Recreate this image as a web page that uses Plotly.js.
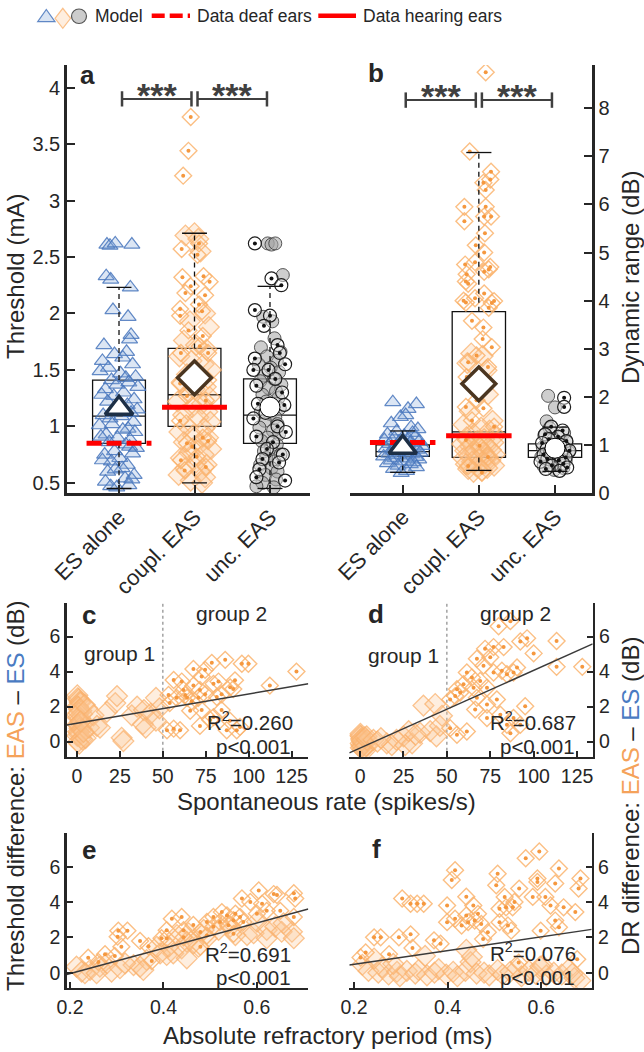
<!DOCTYPE html>
<html><head><meta charset="utf-8">
<script src="https://cdn.plot.ly/plotly-3.0.1.min.js"></script>
<style>html,body{margin:0;padding:0;background:#fff}#chart{width:644px;height:1052px}</style>
</head><body><div id="chart"></div>
<script>
// ---------------- DATA ----------------
const categories = ['ES alone', 'coupl. EAS', 'unc. EAS'];
const catPos = [1, 2, 3];

// Panel a: threshold (mA)
const aES_y  = [2.61,2.60,2.62,2.61,2.33,2.30,2.23,2.03,1.97,1.81,1.77,1.72,1.64,1.66,1.58,1.61,1.52,1.55,1.47,1.49,1.43,1.41,1.44,1.37,1.39,1.33,1.30,1.35,1.27,1.24,1.28,1.21,1.19,1.22,1.15,1.17,1.12,1.10,1.13,1.07,1.04,1.09,1.01,0.98,1.02,0.95,0.93,0.97,0.90,0.88,0.91,0.84,0.86,0.81,0.78,0.82,0.75,0.72,0.76,0.69,0.66,0.70,0.63,0.60,0.57,0.62,0.54,0.51,0.48,0.46,0.53,0.47];
const aES_dx = [-0.16,-0.12,-0.05,0.17,-0.17,-0.11,0.15,-0.08,0.12,0.16,0.14,-0.2,-0.06,0.1,-0.22,0.05,-0.14,0.18,0.02,-0.25,0.09,-0.1,0.22,-0.03,0.13,-0.18,0.06,0.25,-0.07,0.2,-0.23,0.0,0.11,-0.15,0.24,-0.04,0.16,-0.21,0.07,-0.12,0.19,0.03,-0.26,0.12,-0.09,0.21,-0.17,0.05,-0.02,0.15,-0.24,0.09,-0.13,0.23,-0.06,0.14,-0.19,0.01,0.18,-0.1,0.11,-0.22,0.04,-0.15,0.2,-0.05,0.08,-0.18,0.13,-0.03,0.17,-0.11];
const aCo1_y  = [2.71,2.69,2.66,2.55,2.0,1.93,1.88,1.76,1.72,1.68,1.62,1.58,1.55,1.5,1.46,1.44,1.39,1.35,1.33,1.3,1.26,1.22,1.2,1.17,1.13,1.1,1.08,1.04,1.01,0.98,0.95,0.92,0.9,0.86,0.84,0.8,0.77,0.75,0.72,0.68,0.66,0.63,0.6,0.57,0.55,0.52,0.5];
const aCo1_dx = [0.0,-0.12,0.05,0.08,0.14,-0.06,0.19,-0.14,0.02,0.16,-0.2,-0.04,0.12,0.22,-0.1,0.06,-0.17,0.15,0.0,-0.08,0.2,-0.22,0.1,-0.03,0.17,-0.15,0.05,0.21,-0.11,0.13,-0.2,-0.02,0.18,-0.14,0.07,0.22,-0.07,0.12,-0.18,0.02,0.16,-0.12,0.08,-0.21,0.14,-0.05,0.1];
const aCo2_y  = [3.74,3.44,3.22,2.62,2.57,2.52,2.33,2.32,2.28,2.24,2.18,2.16,2.08,2.04,2.02,1.98,1.85,1.8,1.71,1.65,1.65,1.48,1.41,1.38,1.27,1.23,1.05,0.9,0.87,0.85,0.82,0.73,0.7,0.64,0.61];
const aCo2_dx = [-0.05,-0.08,-0.15,0.06,-0.17,0.04,0.12,-0.16,0.2,-0.05,-0.12,0.14,0.06,-0.19,0.1,-0.19,-0.08,0.11,0.07,0.18,-0.18,0.03,0.18,-0.19,-0.1,0.15,-0.19,0.11,0.18,-0.1,-0.03,0.03,-0.18,0.15,-0.13];
const aUn1_y  = [2.62,2.61,2.62,2.34,1.97,1.93,1.78,1.7,1.66,1.62,1.58,1.55,1.52,1.48,1.45,1.42,1.4,1.37,1.34,1.31,1.28,1.25,1.22,1.19,1.16,1.13,1.11,1.08,1.05,1.02,0.99,0.96,0.93,0.9,0.87,0.84,0.81,0.78,0.75,0.72,0.69,0.66,0.63,0.6,0.57,0.53,0.5,0.47,0.46];
const aUn1_dx = [-0.03,0.02,0.07,0.17,-0.09,0.03,0.06,-0.12,0.14,-0.04,0.09,-0.15,0.01,0.12,-0.08,0.05,-0.13,0.15,-0.02,0.08,-0.1,0.11,-0.05,0.03,0.13,-0.12,0.0,0.07,-0.07,0.1,-0.14,0.04,0.12,-0.03,-0.11,0.09,0.01,-0.08,0.14,-0.05,0.06,-0.13,0.02,0.1,-0.06,0.08,-0.1,-0.18,0.05];
const aUn2_y  = [2.62,2.31,2.25,2.03,1.98,1.89,1.72,1.65,1.6,1.55,1.5,1.5,1.42,1.36,1.3,1.2,1.19,1.12,1.07,1.0,0.95,0.91,0.86,0.8,0.75,0.71,0.68,0.62,0.55,0.52];
const aUn2_dx = [-0.2,0.02,0.15,-0.2,0.0,-0.08,0.1,0.13,-0.2,0.2,-0.02,-0.22,0.07,-0.18,0.16,-0.16,0.19,-0.06,-0.22,0.1,0.21,-0.18,0.04,-0.04,0.17,-0.1,0.12,-0.14,-0.18,0.2];
const aQ1 = [0.85, 1.00, 0.85];
const aMedian = [1.09, 1.28, 1.10];
const aQ3 = [1.41, 1.69, 1.42];
const aLow = [0.45, 0.50, 0.45];
const aHigh = [2.23, 2.71, 2.24];
const aMean = [1.16, 1.43, 1.17];
const aDeaf = 0.85;     // data deaf ears (ES alone)
const aHearing = 1.17;  // data hearing ears (coupl. EAS)
const aSigLevel = 3.9;

// Panel b: dynamic range (dB)
const bES_y  = [1.89,1.85,1.75,1.62,1.58,1.45,1.37,1.33,1.28,1.25,1.22,1.19,1.16,1.14,1.12,1.1,1.08,1.06,1.04,1.02,1.0,0.98,0.97,0.95,0.93,0.92,0.9,0.88,0.87,0.85,0.84,0.82,0.81,0.79,0.78,0.76,0.75,0.73,0.72,0.7,0.68,0.66,0.64,0.62,0.6,0.57,0.54,0.5,0.46,0.42];
const bES_dx = [-0.13,0.18,0.07,0.04,-0.03,-0.15,0.11,0.2,-0.08,0.13,-0.2,0.02,0.16,-0.11,0.08,-0.24,0.22,-0.05,0.1,-0.17,0.05,0.25,-0.09,0.14,-0.22,0.0,0.19,-0.13,0.09,-0.02,0.23,-0.18,0.12,-0.07,0.04,-0.25,0.17,-0.1,0.07,0.21,-0.15,0.01,0.14,-0.2,0.1,-0.06,0.18,-0.12,0.05,-0.02];
const bCo1_y  = [2.9,2.85,2.7,2.55,2.2,2.05,1.7,1.5,1.42,1.36,1.3,1.25,1.2,1.16,1.12,1.08,1.05,1.02,0.99,0.96,0.93,0.9,0.88,0.85,0.82,0.8,0.77,0.75,0.72,0.7,0.67,0.65,0.62,0.6,0.57,0.55,0.52,0.5,0.47,0.44];
const bCo1_dx = [-0.1,0.05,-0.15,0.1,-0.05,0.12,-0.12,0.18,-0.2,0.03,0.14,-0.08,0.22,-0.16,0.07,-0.02,0.19,-0.22,0.1,-0.11,0.02,0.16,-0.18,0.06,-0.05,0.21,-0.13,0.12,-0.2,0.0,0.15,-0.09,0.08,-0.17,0.2,-0.03,0.11,-0.14,0.04,-0.07];
const bCo2_y  = [8.75,7.1,6.68,6.52,6.45,6.3,5.95,5.95,5.75,5.75,5.65,5.4,5.15,5.0,4.8,4.75,4.7,4.65,4.6,4.55,4.4,4.35,4.15,4.05,4.0,3.95,3.85,3.99,3.58,3.96,3.44,3.2,3.03,2.72,2.86,2.62,2.41,1.93,1.79,1.76,1.51,1.38,1.1,0.98,0.75,0.56,0.42];
const bCo2_dx = [0.09,-0.12,0.16,0.15,0.06,0.09,-0.19,0.09,0.07,0.16,-0.19,0.08,-0.04,0.07,-0.05,-0.18,0.15,0.13,0.07,-0.16,-0.17,-0.14,0.07,-0.05,-0.2,0.17,0.13,0.2,-0.09,-0.17,0.06,0.05,0.17,-0.14,-0.03,0.12,-0.16,-0.03,-0.17,0.06,-0.09,0.2,-0.17,0.01,0.12,-0.14,0.04];
const bUn1_y  = [2.02,1.78,1.49,1.35,1.25,1.2,1.15,1.1,1.06,1.02,0.98,0.95,0.92,0.9,0.87,0.85,0.82,0.8,0.78,0.75,0.72,0.7,0.67,0.64,0.6,0.56,0.52,0.48];
const bUn1_dx = [-0.09,0.0,-0.11,-0.07,0.12,-0.14,0.06,-0.03,0.15,-0.1,0.09,-0.16,0.03,0.13,-0.06,0.18,-0.12,0.01,0.1,-0.18,0.07,-0.04,0.14,-0.09,0.05,-0.15,0.11,-0.01];
const bUn2_y  = [1.98,1.79,1.38,1.3,1.22,1.17,1.12,1.08,1.04,1.0,0.97,0.94,0.91,0.88,0.86,0.83,0.8,0.77,0.74,0.71,0.68,0.65,0.61,0.57,0.53,0.5,0.46];
const bUn2_dx = [0.12,0.12,-0.05,0.1,-0.13,0.04,-0.08,0.15,-0.17,0.07,-0.02,0.12,-0.11,0.19,-0.06,0.08,-0.15,0.02,0.14,-0.1,0.05,-0.19,0.11,-0.04,0.16,-0.12,0.06];
const bQ1 = [0.76, 0.74, 0.74];
const bMedian = [0.86, 1.27, 0.88];
const bQ3 = [1.00, 3.77, 1.02];
const bLow = [0.43, 0.47, 0.45];
const bHigh = [1.29, 7.08, 1.37];
const bMean = [0.95, 2.27, 0.93];
const bDeaf = 1.05;
const bHearing = 1.19;
const bSigLevel = 8.17;
const sigPairs = [[1, 2], [2, 3]];

// Panel c: spontaneous rate vs threshold difference
const cSR1 = [0.2,0.5,1.0,1.5,2.0,0.3,0.8,1.2,2.5,3.0,0.1,0.6,1.8,2.2,3.5,0.4,0.9,1.4,2.8,0.7,1.1,1.6,0.2,2.4,3.2,0.5,1.3,0.9,4.5,5.0,6.0,7.0,9.6,11.6,13.4,17.4,22.3,23.3,26,27,31.9,35,38.4,39,40,43,46,46,48,3.8,2.1];
const cTh1 = [2.65,2.48,2.41,2.27,2.23,2.02,1.97,1.83,1.76,1.58,1.52,1.37,1.33,1.18,1.12,0.98,0.93,0.77,0.72,0.58,0.52,0.37,0.33,0.18,0.12,-0.02,-0.12,1.65,2.1,0.2,1.9,0.8,1.5,0.9,0.8,1.7,2.2,2.6,0.22,0.03,1.5,2.0,1.0,1.8,0.8,1.6,2.5,1.2,1.9,0.55,1.15];
const cSR2 = [53.3,56.3,61,62,63,67.8,67.8,71.6,72.6,74.6,78.5,79.5,82.4,86.3,89.2,92,96,99.8,112.3,127.8,65.9,66.8,56.3,60,52.4,77.6,81.4,84.2,87.2,94.9,72.6,64.1,74.6,84.2,91,54,58,70.7,79.5,71.6,89,93];
const cTh2 = [2.67,3.52,3.43,2.95,2.67,3.2,4.15,2.95,3.72,4.1,4.5,3.3,3.43,4.67,3.1,3.5,4.45,4.45,3.2,4.0,1.76,2.3,0.74,0.65,0.65,1.24,2.55,1.8,0.65,0.84,1.8,2.5,2.7,2.7,3.0,2.2,2.5,2.5,1.4,0.9,1.2,0.65];

// Panel d: spontaneous rate vs DR difference
const dSR1 = [0.2,0.5,1.0,1.5,2.0,0.3,0.8,1.2,2.5,3.0,0.1,0.6,1.8,2.2,3.5,0.4,0.9,1.4,2.8,4.0,3.8,7.7,15.4,18.3,21,25,26,30,34.6,36.5,40.4,43.3,44,46,47.2,10,12,28,32];
const dDR1 = [0.45,0.3,0.2,0.1,0.0,-0.1,-0.2,-0.3,-0.4,-0.5,0.35,0.15,-0.05,-0.15,-0.25,-0.35,0.05,-0.45,0.25,0.1,0.3,0.1,-0.1,-0.2,0.1,0.3,-0.2,-0.1,0.5,2.06,0.6,2.15,0.3,0.9,1.48,0.0,0.2,0.6,0.4];
const dSR2 = [79.8,86.6,92.3,96.2,100,113.2,113.2,128,72,76.9,82.7,67.3,71.1,75,76.9,81.7,84.6,88.4,90.4,61.5,64.4,59.6,55.8,54.8,51.9,65.4,73.1,67.3,66.3,73.1,78.8,80.8,84.6,88.4,95.1,73.1,61.5,55.8,51.9,92.3,86.6,69.2,57.7];
const dDR2 = [6.59,6.88,5.72,5.9,5.04,5.75,4.27,4.27,5.3,5.4,5.4,4.73,4.34,4.82,3.95,4.05,3.85,3.95,4.24,3.95,3.66,3.28,2.99,2.6,2.41,3.08,3.08,2.5,1.83,2.12,2.41,1.54,0.96,1.35,2.02,1.35,0.58,0.39,0.77,0.96,0.48,3.47,2.8];

// Panel e: refractory period vs threshold difference
const eARP1 = [0.214,0.225,0.243,0.264,0.279,0.289,0.307,0.336,0.35,0.364,0.407,0.421,0.439,0.45,0.429,0.454,0.475,0.45,0.393,0.493,0.518,0.543,0.554,0.579,0.593,0.621,0.639,0.653,0.675,0.679,0.621,0.6,0.657,0.232,0.257,0.318,0.357,0.386,0.411,0.464,0.486];
const eTh1  = [0.34,0.06,0.15,0.34,0.53,0.06,0.25,0.43,0.34,0.72,1.0,1.09,1.38,1.75,2.13,2.23,1.47,0.81,1.09,1.95,2.42,2.6,2.13,2.13,2.23,2.42,2.6,2.32,2.32,1.95,1.95,2.89,2.8,-0.03,-0.03,0.53,0.15,1.47,1.47,1.66,2.42];
const eARP2 = [0.3035,0.302,0.31,0.323,0.35,0.368,0.396,0.407,0.418,0.407,0.439,0.443,0.464,0.443,0.507,0.525,0.536,0.554,0.507,0.521,0.539,0.55,0.564,0.571,0.55,0.568,0.586,0.604,0.6,0.611,0.621,0.636,0.643,0.679,0.682,0.679,0.65,0.479,0.493,0.239,0.261,0.275,0.296,0.375,0.479,0.493];
const eTh2  = [2.38,2.04,1.47,2.38,1.8,1.5,1.95,2.4,3.05,1.95,3.15,2.4,2.7,2.0,3.15,3.43,3.24,3.34,2.6,2.87,2.68,2.97,3.15,2.87,2.2,4.2,4.0,4.65,3.34,3.9,3.5,4.45,4.4,4.5,4.2,3.15,3.5,2.3,2.87,0.85,0.6,1.04,0.95,0.66,1.47,2.1];

// Panel f: refractory period vs DR difference
const fARP1 = [0.218,0.231,0.252,0.26,0.274,0.292,0.298,0.313,0.331,0.338,0.356,0.372,0.381,0.397,0.412,0.421,0.438,0.449,0.462,0.478,0.489,0.507,0.518,0.534,0.549,0.558,0.574,0.588,0.603,0.611,0.627,0.644,0.659,0.671,0.684,0.243,0.284,0.352,0.44,0.452,0.598,0.667];
const fDR1  = [0.45,0.1,0.0,0.3,-0.1,0.05,-0.2,0.1,-0.05,0.15,-0.15,0.0,0.2,-0.1,0.05,-0.2,0.1,0.6,-0.05,0.0,-0.15,0.15,-0.1,0.05,0.25,-0.2,0.1,-0.05,0.4,-0.15,0.0,-0.1,0.2,-0.3,-0.45,0.8,0.5,0.95,1.3,0.9,0.35,-0.05];
const fARP2 = [0.214,0.225,0.243,0.257,0.275,0.296,0.303,0.321,0.335,0.349,0.321,0.325,0.371,0.385,0.399,0.399,0.409,0.416,0.416,0.43,0.44,0.44,0.444,0.455,0.458,0.465,0.472,0.486,0.504,0.507,0.511,0.511,0.522,0.525,0.529,0.536,0.539,0.543,0.553,0.567,0.596,0.592,0.582,0.592,0.599,0.609,0.62,0.63,0.638,0.63,0.638,0.648,0.673,0.68,0.684,0.677,0.552,0.476];
const fDR2  = [0.86,1.14,2.0,2.0,1.05,2.0,4.2,3.9,3.9,3.9,2.17,1.4,1.83,1.64,3.8,2.86,5.25,5.8,3.05,2.67,4.3,3.24,2.86,3.8,2.95,3.33,2.76,2.29,4.95,5.6,3.62,2.86,4.29,3.7,2.67,2.38,3.7,4.0,4.76,6.48,6.86,5.33,4.29,5.14,2.38,4.29,3.8,5.05,5.9,2.95,2.57,3.7,3.43,4.76,5.33,0.76,0.57,1.9];

// Linear fits (c, d, e, f)
const fitSlope = [0.0167, 0.0444, 7.16, 3.9];
const fitIntercept = [1.05, -0.37, -1.48, -0.31];
const fitR2 = ['0.260', '0.687', '0.691', '0.076'];
const groupBoundary = 50;

// ---------------- STYLE / HELPERS ----------------
const FONT = 'Liberation Sans, Arial, Helvetica, sans-serif';
const TXT = '#262626';
const ORANGE = '#F5A25A', BLUE = '#4A7BC2';
const PX = v => v / 644, PY = v => 1 - v / 1052;

const traces = [];
function add(t){ traces.push(Object.assign({type:'scatter', hoverinfo:'skip', showlegend:false}, t)); }
function shift(c, dx){ const n = dx.length; const out = []; for (let i=0;i<n;i++) out.push(c + dx[i]); return out; }

const sTri = {symbol:'triangle-up', size:14, color:'rgba(130,165,215,0.28)', line:{color:'rgba(72,118,188,0.85)', width:1.2}};
const sDia = {symbol:'diamond', size:16, color:'rgba(253,200,150,0.30)', line:{color:'rgba(250,178,110,0.75)', width:1.3}};
const sDiaOpen = {symbol:'diamond-open', size:13, color:'rgba(250,180,110,0.85)', line:{width:1.4}};
const sDotO = {symbol:'circle', size:4, color:'#F5983F'};
const sCir = {symbol:'circle', size:13, color:'rgba(165,165,165,0.55)', line:{color:'rgba(60,60,60,0.85)', width:1}};
const sCirOpen = {symbol:'circle', size:13, color:'rgba(255,255,255,0.35)', line:{color:'#1e1e1e', width:1.2}};
const sDotK = {symbol:'circle', size:4, color:'#111'};

function pts(xa, ya, x, y, m){ add({mode:'markers', xaxis:xa, yaxis:ya, x:x, y:y.slice(0, x.length), marker:m}); }
function dotted(xa, ya, x, y, outer, dot){ pts(xa, ya, x, y, outer); pts(xa, ya, x, y, dot); }

function boxPanel(xa, ya, q1, med, q3, lo, hi){
  add({type:'box', xaxis:xa, yaxis:ya, x:catPos, q1:q1, median:med, q3:q3, lowerfence:q1, upperfence:q3,
       width:0.7, whiskerwidth:0, fillcolor:'rgba(0,0,0,0)', line:{color:'#111', width:1.3}, boxpoints:false});
  const wx=[], wy=[], cx=[], cy=[];
  catPos.forEach((c,i)=>{ wx.push(c,c,null,c,c,null); wy.push(q3[i],hi[i],null,q1[i],lo[i],null);
    cx.push(c-0.165,c+0.165,null,c-0.165,c+0.165,null); cy.push(hi[i],hi[i],null,lo[i],lo[i],null); });
  add({mode:'lines', xaxis:xa, yaxis:ya, x:wx, y:wy, line:{color:'#111', width:1.3, dash:'5px,4px'}});
  add({mode:'lines', xaxis:xa, yaxis:ya, x:cx, y:cy, line:{color:'#111', width:1.3}});
}
function means(xa, ya, mean){
  pts(xa, ya, [catPos[0]], [mean[0]], {symbol:'triangle-up', size:24, color:'#fff', line:{color:'#1d2f46', width:3.5}});
  pts(xa, ya, [catPos[1]], [mean[1]], {symbol:'diamond', size:26, color:'#fff', line:{color:'#4a3520', width:3.5}});
  pts(xa, ya, [catPos[2]], [mean[2]], {symbol:'circle', size:20, color:'#fff', line:{color:'#000', width:1}});
}
function dataLines(xa, ya, deaf, hearing){
  add({mode:'lines', xaxis:xa, yaxis:ya, x:[catPos[0]-0.43, catPos[0]+0.43], y:[deaf, deaf], line:{color:'#ff0000', width:5, dash:'15px,5px'}});
  add({mode:'lines', xaxis:xa, yaxis:ya, x:[catPos[1]-0.43, catPos[1]+0.43], y:[hearing, hearing], line:{color:'#ff0000', width:5}});
}
function sigBars(xa, ya, level){
  sigPairs.forEach(p=>{
    add({mode:'lines+markers', xaxis:xa, yaxis:ya, x:[p[0]+0.04, p[1]-0.04], y:[level, level],
         line:{color:'#404040', width:2}, marker:{symbol:'line-ns-open', size:11, color:'#404040', line:{width:2.5}}});
  });
}

// ---------------- PANEL a ----------------
pts('x','y', shift(1, aES_dx), aES_y, sTri);
pts('x','y', shift(2, aCo1_dx), aCo1_y, sDia);
dotted('x','y', shift(2, aCo2_dx), aCo2_y, sDiaOpen, sDotO);
pts('x','y', shift(3, aUn1_dx), aUn1_y, sCir);
dotted('x','y', shift(3, aUn2_dx), aUn2_y, sCirOpen, sDotK);
boxPanel('x','y', aQ1, aMedian, aQ3, aLow, aHigh);
dataLines('x','y', aDeaf, aHearing);
means('x','y', aMean);
sigBars('x','y', aSigLevel);

// ---------------- PANEL b ----------------
pts('x2','y2', shift(1, bES_dx), bES_y, sTri);
pts('x2','y2', shift(2, bCo1_dx), bCo1_y, sDia);
dotted('x2','y2', shift(2, bCo2_dx), bCo2_y, sDiaOpen, sDotO);
pts('x2','y2', shift(3, bUn1_dx), bUn1_y, sCir);
dotted('x2','y2', shift(3, bUn2_dx), bUn2_y, sCirOpen, sDotK);
boxPanel('x2','y2', bQ1, bMedian, bQ3, bLow, bHigh);
dataLines('x2','y2', bDeaf, bHearing);
means('x2','y2', bMean);
sigBars('x2','y2', bSigLevel);

// ---------------- PANELS c-f ----------------
const ranges = {
  x3:[-6,134.7], y3:[-0.86,7.9], x4:[-6.2,134], y4:[-0.86,7.9],
  x5:[0.193,0.71], y5:[-0.85,7.89], x6:[0.19,0.708], y6:[-0.85,7.89]
};
const scatterPanels = [
  ['x3','y3', cSR1, cTh1, cSR2, cTh2],
  ['x4','y4', dSR1, dDR1, dSR2, dDR2],
  ['x5','y5', eARP1, eTh1, eARP2, eTh2],
  ['x6','y6', fARP1, fDR1, fARP2, fDR2]
];
scatterPanels.forEach((p, i)=>{
  const [xa, ya, x1, y1, x2, y2] = p;
  if (i < 2) add({mode:'lines', xaxis:xa, yaxis:ya, x:[groupBoundary, groupBoundary], y:ranges[ya], line:{color:'#8a8a8a', width:1.2, dash:'dot'}});
  pts(xa, ya, x1, y1, sDia);
  dotted(xa, ya, x2, y2, sDiaOpen, sDotO);
  const xr = ranges[xa];
  add({mode:'lines', xaxis:xa, yaxis:ya, x:xr, y:xr.map(v => fitIntercept[i] + fitSlope[i]*v), line:{color:'#3a3a3a', width:1.5}});
});

// ---------------- LAYOUT ----------------
function ax(extra){
  return Object.assign({showline:true, linecolor:'#262626', linewidth:2.5, ticks:'inside', ticklen:8, tickwidth:2,
    tickcolor:'#262626', showgrid:false, zeroline:false, fixedrange:true, automargin:false,
    tickfont:{family:FONT, size:20, color:TXT}}, extra);
}
const small = {family:FONT, size:19.5, color:TXT};
const catFont = {family:FONT, size:22, color:TXT};
const layout = {
  width:644, height:1052, margin:{l:0, r:0, t:0, b:0}, paper_bgcolor:'#fff', plot_bgcolor:'rgba(0,0,0,0)',
  showlegend:false, boxmode:'overlay', font:{family:FONT, color:TXT},
  xaxis: ax({domain:[PX(66.7), PX(310)], range:[0.307,3.53], anchor:'y', tickvals:catPos, ticktext:categories, tickangle:-45, tickfont:catFont}),
  yaxis: ax({domain:[PY(493), PY(65)], range:[0.41,4.2], anchor:'x', tickvals:[0.5,1,1.5,2,2.5,3,3.5,4]}),
  xaxis2: ax({domain:[PX(350), PX(592)], range:[0.308,3.486], anchor:'y2', tickvals:catPos, ticktext:categories, tickangle:-45, tickfont:catFont}),
  yaxis2: ax({domain:[PY(493), PY(65)], range:[0,8.9], anchor:'x2', side:'right', tickvals:[0,1,2,3,4,5,6,7,8]}),
  xaxis3: ax({domain:[PX(66.7), PX(308.3)], range:ranges.x3, anchor:'y3', tickvals:[0,25,50,75,100,125], tickfont:small, ticklen:6}),
  yaxis3: ax({domain:[PY(756.7), PY(603.3)], range:ranges.y3, anchor:'x3', tickvals:[0,2,4,6], tickfont:small, ticklen:6}),
  xaxis4: ax({domain:[PX(349.3), PX(592.7)], range:ranges.x4, anchor:'y4', tickvals:[0,25,50,75,100,125], tickfont:small, ticklen:6}),
  yaxis4: ax({domain:[PY(756.7), PY(603.3)], range:ranges.y4, anchor:'x4', side:'right', tickvals:[0,2,4,6], tickfont:small, ticklen:6}),
  xaxis5: ax({domain:[PX(66.7), PX(308.3)], range:ranges.x5, anchor:'y5', tickvals:[0.2,0.4,0.6], tickfont:small, ticklen:6}),
  yaxis5: ax({domain:[PY(987.7), PY(833.3)], range:ranges.y5, anchor:'x5', tickvals:[0,2,4,6], tickfont:small, ticklen:6}),
  xaxis6: ax({domain:[PX(349.3), PX(591.7)], range:ranges.x6, anchor:'y6', tickvals:[0.2,0.4,0.6], tickfont:small, ticklen:6}),
  yaxis6: ax({domain:[PY(987.7), PY(833.3)], range:ranges.y6, anchor:'x6', side:'right', tickvals:[0,2,4,6], tickfont:small, ticklen:6}),
  annotations: [], shapes: []
};
const A = layout.annotations;
function note(text, x, y, size, opts){ A.push(Object.assign({text:text, x:PX(x), y:PY(y), xref:'paper', yref:'paper', showarrow:false,
  xanchor:'center', yanchor:'middle', font:{family:FONT, size:size, color:TXT}}, opts||{})); }

// panel letters
[['a',87.5,75],['b',375.5,73],['c',88.5,615],['d',375.5,614],['e',88.5,850],['f',376,849]].forEach(l=>note('<b>'+l[0]+'</b>', l[1], l[2], 26));
// significance stars
[['x','y',aSigLevel],['x2','y2',bSigLevel]].forEach(s=>{
  sigPairs.forEach(p=>A.push({text:'<b>***</b>', x:(p[0]+p[1])/2, y:s[2], xref:s[0], yref:s[1], showarrow:false,
    xanchor:'center', yanchor:'middle', yshift:4, font:{family:FONT, size:34, color:'#404040'}}));
});
// axis titles
note('Threshold (mA)', 15, 277, 24, {textangle:-90});
note('Dynamic range (dB)', 630, 278, 24, {textangle:-90});
const eas = '<span style="color:'+ORANGE+'">EAS</span>', es = '<span style="color:'+BLUE+'">ES</span>';
note('Threshold difference: '+eas+' – '+es+' (dB)', 15, 796, 24, {textangle:-90});
note('DR difference: '+eas+' – '+es+' (dB)', 630, 796, 24, {textangle:-90});
note('Spontaneous rate (spikes/s)', 326, 801, 24);
note('Absolute refractory period (ms)', 327.5, 1035, 24);
// group labels
note('group 1', 119.3, 653, 21); note('group 2', 231.7, 613, 21);
note('group 1', 403.3, 655, 21); note('group 2', 515.8, 613, 21);
// fit statistics
[[295,721,293.3,746],[578.3,721,576.7,746],[293.3,953,293.3,977],[578.3,952,576.7,977]].forEach((r,i)=>{
  note('R<sup>2</sup>=' + fitR2[i], r[0], r[1], 20.5, {xanchor:'right'});
  note('p&lt;0.001', r[2], r[3], 20.5, {xanchor:'right'});
});
// legend
const S = layout.shapes;
S.push({type:'path', xref:'paper', yref:'paper', path:'M'+PX(37.7)+','+PY(21.7)+' L'+PX(55)+','+PY(21.7)+' L'+PX(46.3)+','+PY(9.5)+' Z',
  fillcolor:'rgba(130,165,215,0.3)', line:{color:'rgba(72,118,188,0.85)', width:1.2}});
S.push({type:'path', xref:'paper', yref:'paper', path:'M'+PX(55)+','+PY(18.3)+' L'+PX(62.8)+','+PY(8.3)+' L'+PX(70.6)+','+PY(18.3)+' L'+PX(62.8)+','+PY(28.3)+' Z',
  fillcolor:'rgba(253,200,150,0.3)', line:{color:'rgba(250,178,110,0.8)', width:1.2}});
S.push({type:'circle', xref:'paper', yref:'paper', x0:PX(71.5), x1:PX(86.5), y0:PY(23.5), y1:PY(9),
  fillcolor:'rgba(170,170,170,0.6)', line:{color:'#555', width:1.2}});
S.push({type:'line', xref:'paper', yref:'paper', x0:PX(151.7), x1:PX(190), y0:PY(15.7), y1:PY(15.7), line:{color:'#ff0000', width:4.5, dash:'13px,5px'}});
S.push({type:'line', xref:'paper', yref:'paper', x0:PX(318.3), x1:PX(356), y0:PY(15.7), y1:PY(15.7), line:{color:'#ff0000', width:4.5}});
note('Model', 93, 15.7, 17.5, {xanchor:'left'});
note('Data deaf ears', 195.5, 15.7, 17.5, {xanchor:'left'});
note('Data hearing ears', 360.5, 15.7, 17.5, {xanchor:'left'});

Plotly.newPlot('chart', traces, layout, {staticPlot:true, displayModeBar:false});
</script>
</body></html>
